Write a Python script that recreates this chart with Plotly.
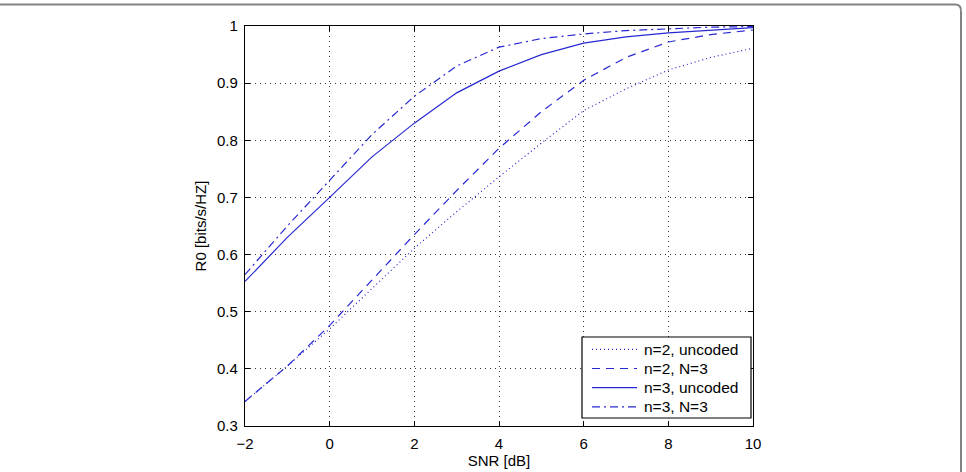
import plotly.graph_objects as go

snr = [-2, -1, 0, 1, 2, 3, 4, 5, 6, 7, 8, 9, 10]
n2_uncoded = [0.343, 0.405, 0.470, 0.540, 0.611, 0.675, 0.736, 0.795, 0.852, 0.890, 0.923, 0.945, 0.961]
n2_N3 = [0.343, 0.405, 0.476, 0.555, 0.635, 0.712, 0.786, 0.850, 0.905, 0.945, 0.972, 0.985, 0.993]
n3_uncoded = [0.553, 0.630, 0.700, 0.771, 0.830, 0.883, 0.921, 0.950, 0.970, 0.981, 0.988, 0.993, 0.997]
n3_N3 = [0.565, 0.650, 0.730, 0.810, 0.877, 0.930, 0.963, 0.978, 0.986, 0.992, 0.995, 0.998, 0.999]

names = ["n=2, uncoded", "n=2, N=3", "n=3, uncoded", "n=3, N=3"]
dashes = ["1px,3px", "8px,6px", "solid", "8px,4px,2px,4px"]
series = [n2_uncoded, n2_N3, n3_uncoded, n3_N3]

blue = "rgb(40,40,210)"
fig = go.Figure()
for nm, ys, d in zip(names, series, dashes):
    fig.add_trace(go.Scatter(x=snr, y=ys, mode="lines", name=nm, showlegend=False,
                             line=dict(color=blue, width=1.2, dash=d)))

font = dict(family="Liberation Sans, Arial, Helvetica, sans-serif", size=15, color="black")
legfont = dict(family="Liberation Sans, Arial, Helvetica, sans-serif", size=15.5, color="black")
axis_common = dict(showline=True, linecolor="black", linewidth=1.2, mirror="ticks",
                   ticks="inside", ticklen=5, tickcolor="black",
                   showgrid=True, gridcolor="rgba(0,0,0,0.8)", griddash="1px,4px", gridwidth=1,
                   zeroline=False, tickfont=font)

fig.update_layout(
    width=966, height=472,
    margin=dict(l=245, r=213, t=26, b=46, autoexpand=False),
    paper_bgcolor="white", plot_bgcolor="white",
    font=font,
    showlegend=False,
    xaxis=dict(range=[-2, 10], tickvals=[-2, 0, 2, 4, 6, 8, 10], ticklabelstandoff=4,
               title=dict(text="SNR [dB]", font=font, standoff=1), **axis_common),
    yaxis=dict(range=[0.3, 1.0], tickvals=[0.3, 0.4, 0.5, 0.6, 0.7, 0.8, 0.9, 1.0],
               ticktext=["0.3", "0.4", "0.5", "0.6", "0.7", "0.8", "0.9", "1"],
               ticklabelstandoff=3,
               title=dict(text="R0 [bits/s/HZ]", font=font, standoff=6), **axis_common),
)

# helpers: page pixels -> paper units of plot area (245..753 x 26..426 px)
def px(x):
    return (x - 245) / 508.0
def py(y):
    return (426 - y) / 400.0

# legend box (MATLAB-style), built from the series names and line styles
fig.add_shape(type="rect", xref="paper", yref="paper", layer="above",
              x0=px(582), x1=px(751), y0=py(418), y1=py(337),
              fillcolor="white", line=dict(color="black", width=1.2))
row_y = [349.3, 368.5, 387.7, 406.9]
for nm, d, ry in zip(names, dashes, row_y):
    fig.add_shape(type="line", xref="paper", yref="paper", layer="above",
                  x0=px(592), x1=px(637), y0=py(ry), y1=py(ry),
                  line=dict(color=blue, width=1.2, dash=d))
    fig.add_annotation(xref="paper", yref="paper", x=px(642), y=py(ry),
                       xanchor="left", yanchor="middle", text=nm, showarrow=False,
                       font=legfont)

# outer frame (top and right edges)
frame = dict(color="rgb(130,130,130)", width=2)
fig.add_shape(type="line", xref="paper", yref="paper",
              x0=px(-5), x1=px(955), y0=py(4.5), y1=py(4.5), line=frame)
fig.add_shape(type="path", xref="paper", yref="paper",
              path=f"M {px(955)},{py(4.5)} Q {px(961)},{py(4.5)} {px(961)},{py(10.5)}",
              line=frame)
fig.add_shape(type="line", xref="paper", yref="paper",
              x0=px(961), x1=px(961), y0=py(10.5), y1=py(480), line=frame)

fig.write_html("out.html")
